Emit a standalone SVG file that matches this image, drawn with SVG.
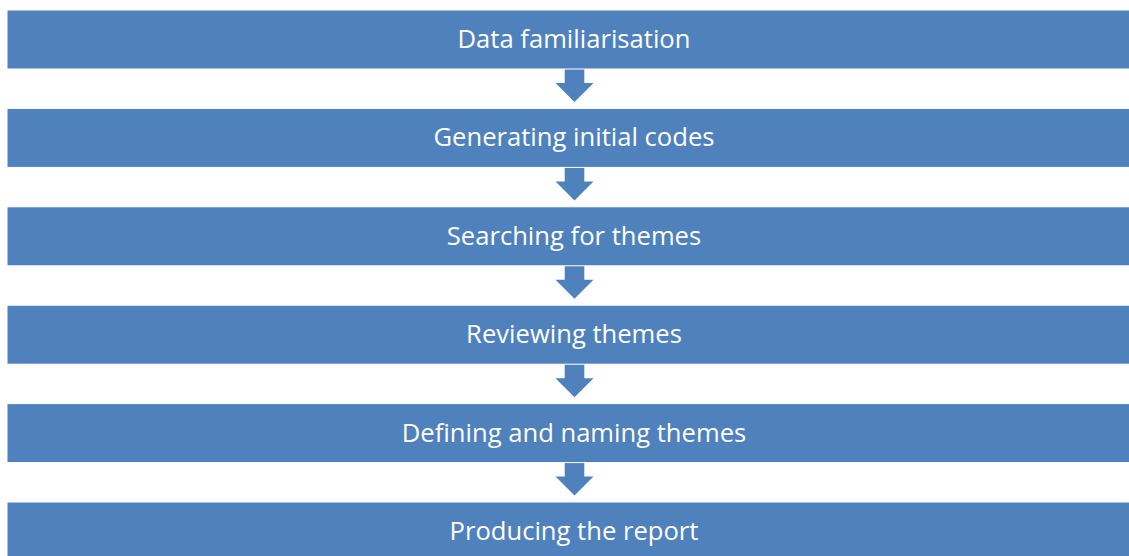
<svg xmlns="http://www.w3.org/2000/svg" width="1129" height="556" viewBox="0 0 1129 556">
  <style>
    .box { fill: #4F81BD; stroke: #ffffff; stroke-width: 1; }
    .lbl { fill: #ffffff; font-family: "Open Sans", "Liberation Sans", sans-serif; font-size: 25.6px; text-anchor: middle; }
    .arr { fill: #4F81BD; }
  </style>
  <defs>
    <!-- down arrow between two steps, origin at top-centre of shaft -->
    <path id="down" d="M-9.8,0 H9.8 V15 H19 L0,34 L-19,15 H-9.8 Z"/>
  </defs>
  <rect width="1129" height="556" fill="#ffffff"/>
  <g id="connectors" class="arr">
    <use href="#down" x="574.5" y="68"/>
    <use href="#down" x="574.5" y="166.4"/>
    <use href="#down" x="574.5" y="264.8"/>
    <use href="#down" x="574.5" y="363.2"/>
    <use href="#down" x="574.5" y="461.6"/>
  </g>
  <g id="step1"><rect class="box" x="7" y="10" width="1135" height="59"/><text class="lbl" x="574" y="48">Data familiarisation</text></g>
  <g id="step2"><rect class="box" x="7" y="108.4" width="1135" height="59"/><text class="lbl" x="574" y="146.4">Generating initial codes</text></g>
  <g id="step3"><rect class="box" x="7" y="206.8" width="1135" height="59"/><text class="lbl" x="574" y="244.8">Searching for themes</text></g>
  <g id="step4"><rect class="box" x="7" y="305.2" width="1135" height="59"/><text class="lbl" x="574" y="343.2">Reviewing themes</text></g>
  <g id="step5"><rect class="box" x="7" y="403.6" width="1135" height="59"/><text class="lbl" x="574" y="441.6">Defining and naming themes</text></g>
  <g id="step6"><rect class="box" x="7" y="502" width="1135" height="59"/><text class="lbl" x="574" y="540">Producing the report</text></g>
</svg>
